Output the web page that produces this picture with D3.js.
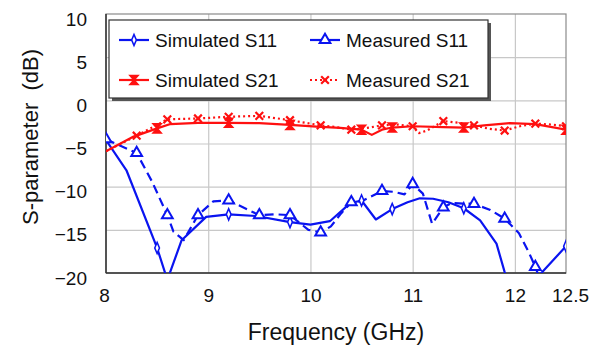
<!DOCTYPE html>
<html><head><meta charset="utf-8">
<script src="https://cdn.jsdelivr.net/npm/d3@7"></script>
<style>
html,body{margin:0;padding:0;background:#fff;}
svg{display:block;font-family:"Liberation Sans",Arial,sans-serif;}
</style></head>
<body><svg id="c" width="597" height="353"></svg>
<script>
// ---- data ----
const xTicks = [8, 9, 10, 11, 12, 12.5];
const yTicks = [-20, -15, -10, -5, 0, 5, 10];

const freqSimS11 = [8.0, 8.2, 8.5, 8.6, 8.74, 8.98, 9.2, 9.47, 9.8, 10.0, 10.19, 10.39, 10.5, 10.64, 10.8, 10.95, 11.07, 11.2, 11.35, 11.5, 11.66, 11.82, 11.9, 12.05, 12.22, 12.5];
const simS11 = [-4.6, -8.1, -17.1, -20.8, -16.2, -13.5, -13.2, -13.4, -14.1, -14.4, -14.0, -11.9, -11.6, -13.8, -12.6, -11.8, -11.35, -11.4, -11.8, -12.5, -13.9, -16.6, -19.9, -25, -20.5, -16.9];
const simS11Markers = [8.5, 9.2, 9.8, 10.5, 10.8, 11.5, 12.5];

const freqMeasS11 = [8.0, 8.3, 8.45, 8.6, 8.66, 8.76, 8.9, 9.05, 9.2, 9.5, 9.65, 9.8, 9.98, 10.1, 10.2, 10.3, 10.4, 10.5, 10.7, 10.82, 10.92, 11.0, 11.1, 11.19, 11.3, 11.38, 11.6, 11.76, 11.9, 12.04, 12.14, 12.2, 12.3, 12.5];
const measS11 = [-4.5, -6.1, -9.4, -13.3, -15.2, -16.2, -13.3, -11.7, -11.6, -13.3, -13.2, -13.3, -15.0, -15.3, -14.6, -13.1, -11.8, -11.7, -10.5, -10.6, -10.9, -9.7, -10.8, -14.3, -12.4, -11.9, -12.0, -12.7, -13.7, -15.4, -17.7, -19.3, -22.5, -26];
const measS11Markers = [8.0, 8.3, 8.6, 8.9, 9.2, 9.5, 9.8, 10.1, 10.4, 10.7, 11.0, 11.3, 11.6, 11.9, 12.2];

const freqSimS21 = [8.0, 8.27, 8.5, 8.63, 8.9, 9.2, 9.5, 9.8, 10.06, 10.29, 10.5, 10.6, 10.7, 10.8, 11.0, 11.3, 11.5, 11.7, 11.95, 12.2, 12.5];
const simS21 = [-5.9, -4.2, -3.25, -2.75, -2.6, -2.6, -2.65, -2.85, -3.05, -3.2, -3.4, -4.0, -3.4, -3.15, -3.0, -3.1, -3.15, -2.9, -2.65, -2.75, -3.4];
const simS21Markers = [8.5, 9.2, 9.8, 10.5, 10.8, 11.5, 12.5];

const freqMeasS21 = [8.0, 8.3, 8.6, 8.9, 9.2, 9.5, 9.8, 10.1, 10.25, 10.4, 10.55, 10.7, 10.85, 11.0, 11.06, 11.14, 11.3, 11.45, 11.6, 11.75, 11.9, 12.05, 12.2, 12.35, 12.5];
const measS21 = [-5.9, -4.1, -2.2, -2.1, -1.9, -1.8, -2.3, -2.9, -3.1, -3.4, -3.2, -2.9, -2.8, -3.0, -3.8, -3.5, -2.4, -2.6, -2.9, -3.3, -3.5, -3.0, -2.7, -2.8, -3.0];
const measS21Markers = [8.3, 8.6, 8.9, 9.2, 9.5, 9.8, 10.1, 10.4, 10.7, 11.0, 11.3, 11.6, 11.9, 12.2, 12.5];

const legendNames = ["Simulated S11", "Measured S11", "Simulated S21", "Measured S21"];

// ---- layout ----
const L = 106, R = 566, T = 14, B = 273;
const BLUE = "#0a14f0", RED = "#ff1010";
const x = d3.scaleLinear().domain([8, 12.5]).range([L, R]);
const y = d3.scaleLinear().domain([-20, 10]).range([B, T]);
const svg = d3.select("#c");

svg.append("defs").append("clipPath").attr("id", "clip")
  .append("rect").attr("x", L).attr("y", T).attr("width", R - L).attr("height", B - T);

// grid
svg.append("g").attr("transform", `translate(0,${B})`)
  .call(d3.axisBottom(x).tickValues([9, 10, 11, 12]).tickSize(-(B - T)).tickFormat(""))
  .call(g => g.select(".domain").remove())
  .call(g => g.selectAll("line").attr("stroke", "#c8c8c8").attr("stroke-width", 1.2));
svg.append("g").attr("transform", `translate(${L},0)`)
  .call(d3.axisLeft(y).tickValues([-15, -10, -5, 0, 5]).tickSize(-(R - L)).tickFormat(""))
  .call(g => g.select(".domain").remove())
  .call(g => g.selectAll("line").attr("stroke", "#c8c8c8").attr("stroke-width", 1.2));

// plot frame
svg.append("rect").attr("x", L).attr("y", T).attr("width", R - L).attr("height", B - T)
  .attr("fill", "none").attr("stroke", "#8a8a8a").attr("stroke-width", 1.2);
svg.append("line").attr("x1", L).attr("x2", L).attr("y1", T).attr("y2", B).attr("stroke", "#333").attr("stroke-width", 1.5);
svg.append("line").attr("x1", L).attr("x2", R).attr("y1", B).attr("y2", B).attr("stroke", "#333").attr("stroke-width", 1.5);

// tick labels
svg.append("g").attr("transform", `translate(0,${B})`)
  .call(d3.axisBottom(x).tickValues(xTicks).tickSize(0).tickPadding(0).tickFormat(d3.format("")))
  .call(g => g.select(".domain").remove())
  .call(g => g.selectAll("text").attr("font-size", 19).attr("fill", "#111")
    .attr("font-family", "Liberation Sans, Arial, sans-serif").attr("dy", null).attr("y", 29))
  .call(g => g.selectAll(".tick").filter(d => d === 8).select("text").attr("x", -2))
  .call(g => g.selectAll(".tick").filter(d => d === 12.5).select("text").attr("x", 4));
svg.append("g").attr("transform", `translate(${L},0)`)
  .call(d3.axisLeft(y).tickValues(yTicks).tickSize(0).tickPadding(19).tickFormat(d3.format("")))
  .call(g => g.select(".domain").remove())
  .call(g => g.selectAll("text").attr("font-size", 19).attr("fill", "#111")
    .attr("font-family", "Liberation Sans, Arial, sans-serif").attr("dy", null).attr("y", 11));

// titles
svg.append("text").attr("x", (L + R) / 2).attr("y", 340).attr("text-anchor", "middle")
  .attr("font-size", 23).attr("fill", "#111").text("Frequency (GHz)");
svg.append("text").attr("transform", "translate(38,137) rotate(-90)").attr("text-anchor", "middle")
  .attr("font-size", 22).attr("fill", "#111").attr("xml:space", "preserve").style("white-space", "pre")
  .text("S-parameter  (dB)");

// marker shapes
const hourglass = "M-4,-4.5L4,-4.5L-4,4.5L4,4.5Z";
function drawMarker(g, kind, cx, cy) {
  if (kind === "diamond") {
    g.append("path").attr("d", d3.symbol(d3.symbolDiamond, 30)()).attr("transform", `translate(${cx},${cy}) scale(0.8,1.1)`)
      .attr("fill", "#fff").attr("stroke", BLUE).attr("stroke-width", 1.8);
  } else if (kind === "triangle") {
    g.append("path").attr("d", d3.symbol(d3.symbolTriangle, 50)()).attr("transform", `translate(${cx},${cy})`)
      .attr("fill", "#fff").attr("stroke", BLUE).attr("stroke-width", 2);
  } else if (kind === "hourglass") {
    g.append("path").attr("d", hourglass).attr("transform", `translate(${cx},${cy})`)
      .attr("fill", RED).attr("stroke", RED).attr("stroke-width", 1.6).attr("stroke-linejoin", "miter");
  } else if (kind === "x") {
    g.append("path").attr("d", d3.symbol(d3.symbolX, 40)()).attr("transform", `translate(${cx},${cy})`)
      .attr("fill", "none").attr("stroke", RED).attr("stroke-width", 2.2);
  }
}

const series = [
  { f: freqSimS11, v: simS11, m: simS11Markers, color: BLUE, dash: null, kind: "diamond" },
  { f: freqMeasS11, v: measS11, m: measS11Markers, color: BLUE, dash: "9,5", kind: "triangle" },
  { f: freqSimS21, v: simS21, m: simS21Markers, color: RED, dash: null, kind: "hourglass" },
  { f: freqMeasS21, v: measS21, m: measS21Markers, color: RED, dash: "2,3", kind: "x" }
];

const plot = svg.append("g").attr("clip-path", "url(#clip)");
const line = d3.line().x(d => x(d[0])).y(d => y(d[1]));
series.forEach(s => {
  const pts = s.f.map((f, i) => [f, s.v[i]]);
  plot.append("path").datum(pts).attr("d", line).attr("fill", "none")
    .attr("stroke", s.color).attr("stroke-width", 2.2)
    .attr("stroke-dasharray", s.dash).attr("stroke-linejoin", "round");
});
const mk = svg.append("g").attr("clip-path", "url(#clip)");
series.forEach(s => {
  s.f.forEach((f, i) => {
    if (s.m.includes(f) && s.v[i] >= -20) drawMarker(mk, s.kind, x(f), y(s.v[i]));
  });
});

// legend
const lg = svg.append("g");
lg.append("rect").attr("x", 112).attr("y", 23).attr("width", 379).attr("height", 78).attr("fill", "#555");
lg.append("rect").attr("x", 109).attr("y", 20).attr("width", 379).attr("height", 78)
  .attr("fill", "#fff").attr("stroke", "#333").attr("stroke-width", 1.2);
const lx = [119, 310], ly = [40, 80];
series.forEach((s, i) => {
  const cx = lx[i % 2], cy = ly[Math.floor(i / 2)];
  lg.append("line").attr("x1", cx).attr("x2", cx + 30).attr("y1", cy).attr("y2", cy)
    .attr("stroke", s.color).attr("stroke-width", 2.2).attr("stroke-dasharray", s.kind === "x" ? "2,3" : null);
  drawMarker(lg, s.kind, cx + 15, cy);
  lg.append("text").attr("x", cx + 36).attr("y", cy + 7).attr("font-size", 19).attr("fill", "#111").text(legendNames[i]);
});
</script>
</body></html>
